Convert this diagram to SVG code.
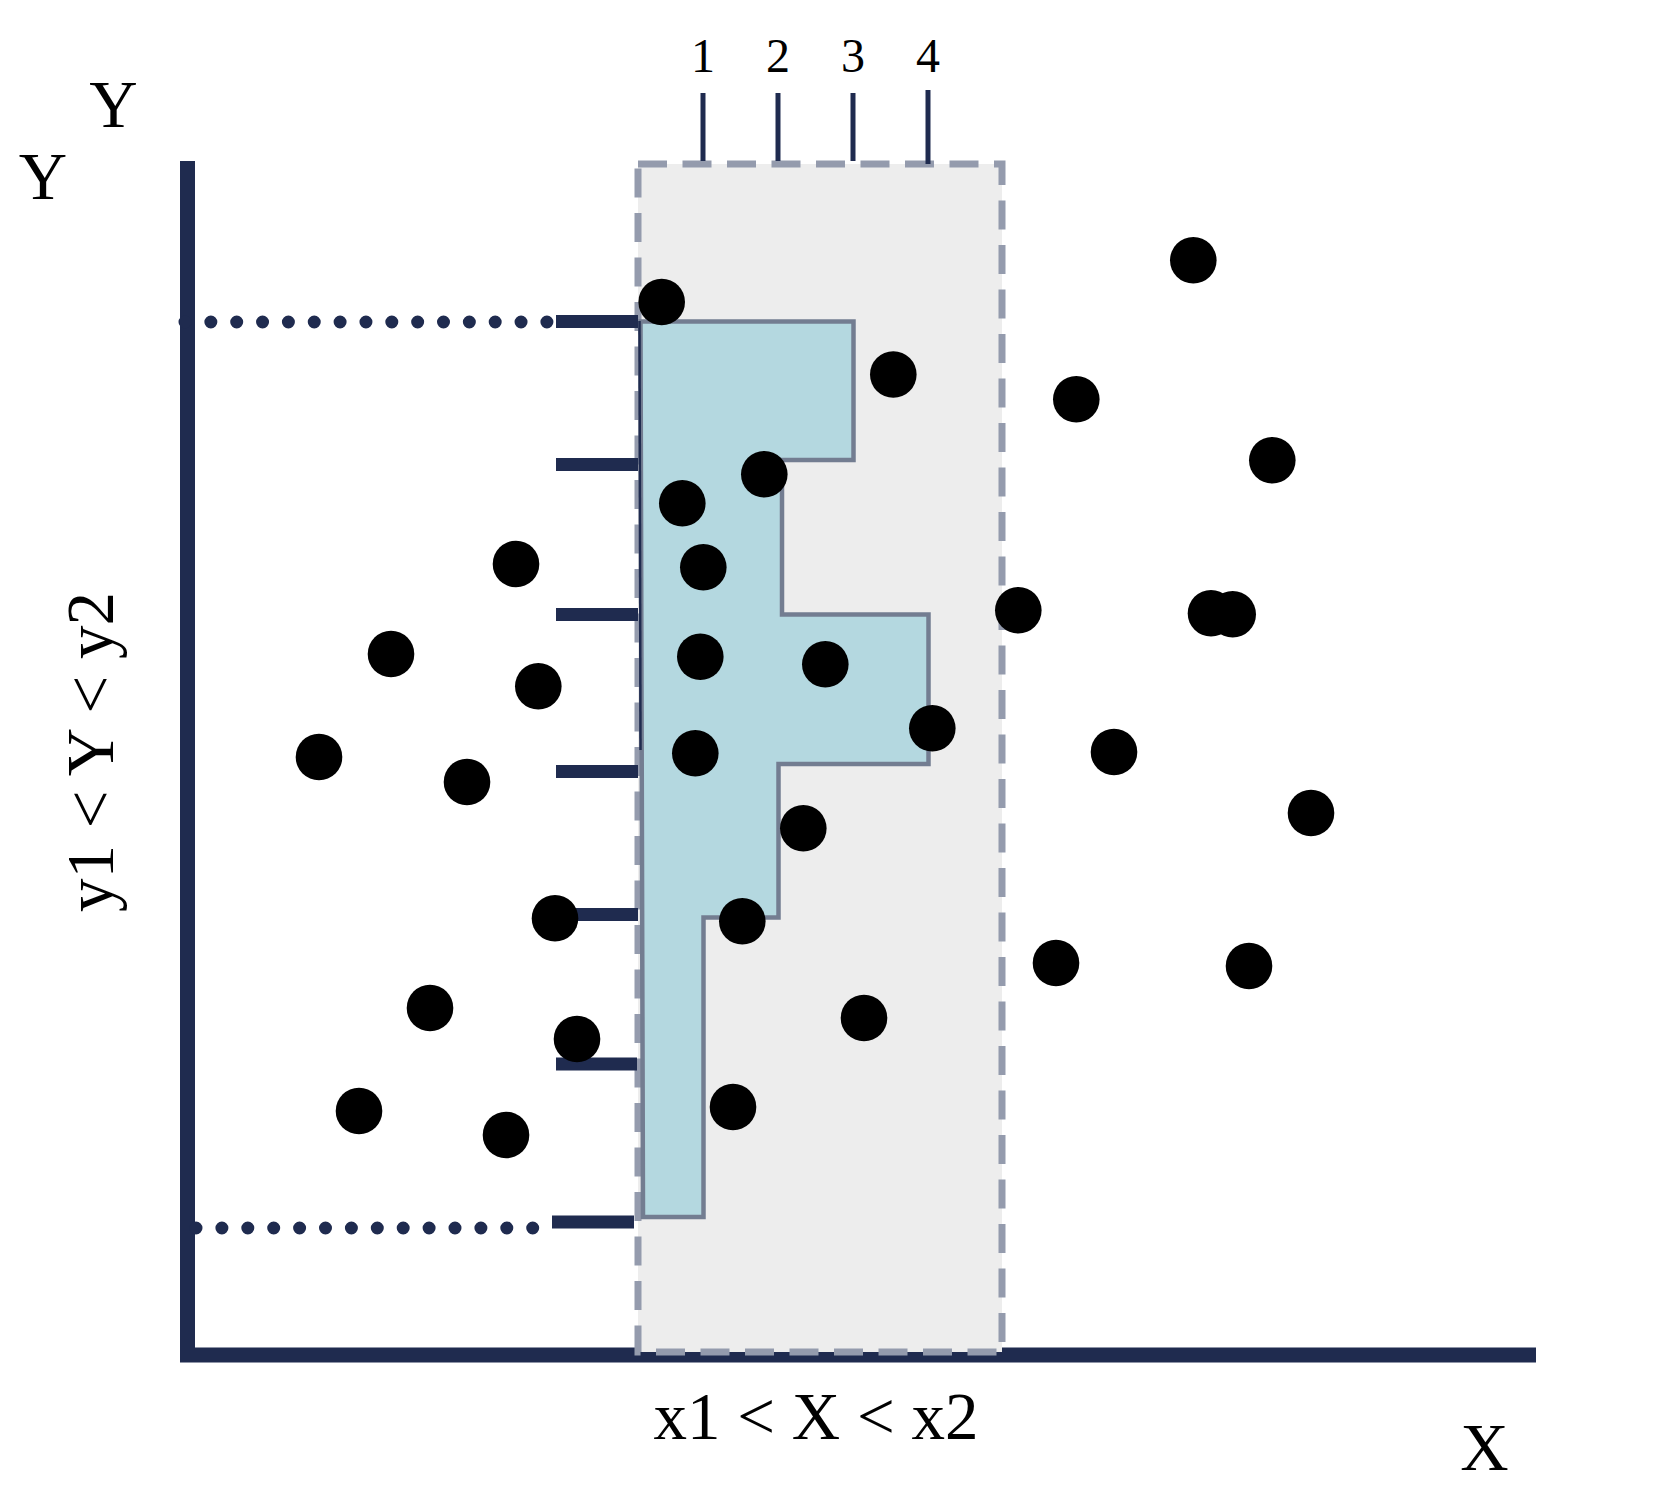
<svg xmlns="http://www.w3.org/2000/svg" width="1678" height="1509" viewBox="0 0 1678 1509">
<style>
.lbl{font-family:"Liberation Serif","Times New Roman",serif;fill:#000;text-anchor:middle}
.big{font-size:67px}
.num{font-size:48px}
.axis{fill:none;stroke:#1f2b4f;stroke-width:15;stroke-linejoin:miter;stroke-linecap:butt}
.tick{stroke:#1f2b4f;stroke-width:13;stroke-linecap:butt}
.ntick{stroke:#1f2b4f;stroke-width:5}
.dots{fill:none;stroke:#1f2b4f;stroke-width:13;stroke-linecap:round}
.pt{fill:#000}
</style>
<rect width="1678" height="1509" fill="#fff"/>
<g id="axes">
<path class="axis" d="M187.5,161 V1355 H1536"/>
</g>
<g id="range-box">
<rect x="638" y="164" width="364" height="1188" fill="#ededed" stroke="#949bad" stroke-width="7" stroke-dasharray="29 15.5"/>
</g>
<g id="histogram">
<polygon points="640.5,321.5 853.5,321.5 853.5,460 782,460 782,614.5 928.5,614.5 928.5,764 778.5,764 778.5,917.5 703.5,917.5 703.5,1217 643,1217" fill="#b4d8e0" stroke="#737d91" stroke-width="4.5"/>
<line x1="639.5" y1="321" x2="640.5" y2="750" stroke="#1f2b4f" stroke-width="2.5"/>
</g>
<g id="connectors">
<path class="dots" d="M185,322 H548" stroke-dasharray="0 25.85"/>
<path class="dots" d="M196,1228 H534" stroke-dasharray="0 25.9"/>
<line class="tick" x1="556" y1="321.5" x2="638" y2="321.5"/>
<line class="tick" x1="556" y1="464.5" x2="638" y2="464.5"/>
<line class="tick" x1="556" y1="614.5" x2="638" y2="614.5"/>
<line class="tick" x1="556" y1="771.5" x2="638" y2="771.5"/>
<line class="tick" x1="556" y1="914.5" x2="638" y2="914.5"/>
<line class="tick" x1="556" y1="1064" x2="637" y2="1064"/>
<line class="tick" x1="552" y1="1222" x2="634" y2="1222"/>
<line class="ntick" x1="703" y1="93" x2="703" y2="161"/>
<line class="ntick" x1="778" y1="93" x2="778" y2="161"/>
<line class="ntick" x1="853" y1="93" x2="853" y2="161"/>
<line class="ntick" x1="928" y1="90" x2="928" y2="164"/>
</g>
<g id="points">
<circle class="pt" cx="661.7" cy="302" r="23.3"/>
<circle class="pt" cx="1193.3" cy="260.3" r="23.3"/>
<circle class="pt" cx="893.3" cy="374.5" r="23.3"/>
<circle class="pt" cx="1076.3" cy="399.3" r="23.3"/>
<circle class="pt" cx="1272.3" cy="460.3" r="23.3"/>
<circle class="pt" cx="764.3" cy="474.3" r="23.3"/>
<circle class="pt" cx="682.3" cy="503.3" r="23.3"/>
<circle class="pt" cx="516" cy="564" r="23.3"/>
<circle class="pt" cx="703.3" cy="567.3" r="23.3"/>
<circle class="pt" cx="1018.3" cy="610.3" r="23.3"/>
<circle class="pt" cx="1211" cy="613.3" r="23.3"/>
<circle class="pt" cx="1232.7" cy="614.3" r="23.3"/>
<circle class="pt" cx="391" cy="654" r="23.3"/>
<circle class="pt" cx="700.3" cy="656.7" r="23.3"/>
<circle class="pt" cx="825.3" cy="664.3" r="23.3"/>
<circle class="pt" cx="538.3" cy="686.3" r="23.3"/>
<circle class="pt" cx="932.3" cy="728.3" r="23.3"/>
<circle class="pt" cx="319" cy="757" r="23.3"/>
<circle class="pt" cx="695.3" cy="753.3" r="23.3"/>
<circle class="pt" cx="467" cy="782" r="23.3"/>
<circle class="pt" cx="1114" cy="752" r="23.3"/>
<circle class="pt" cx="1311" cy="813" r="23.3"/>
<circle class="pt" cx="803.3" cy="828.3" r="23.3"/>
<circle class="pt" cx="555" cy="918.3" r="23.3"/>
<circle class="pt" cx="742.3" cy="921.3" r="23.3"/>
<circle class="pt" cx="1056" cy="963" r="23.3"/>
<circle class="pt" cx="1249" cy="966" r="23.3"/>
<circle class="pt" cx="430" cy="1008" r="23.3"/>
<circle class="pt" cx="864" cy="1018" r="23.3"/>
<circle class="pt" cx="577" cy="1039" r="23.3"/>
<circle class="pt" cx="359" cy="1111" r="23.3"/>
<circle class="pt" cx="733" cy="1107" r="23.3"/>
<circle class="pt" cx="506" cy="1135" r="23.3"/>
</g>
<g id="labels">
<text class="lbl num" x="703" y="72">1</text>
<text class="lbl num" x="778" y="72">2</text>
<text class="lbl num" x="853" y="72">3</text>
<text class="lbl num" x="928" y="72">4</text>
<text class="lbl big" x="113.5" y="127">Y</text>
<text class="lbl big" x="43" y="199">Y</text>
<text class="lbl big" x="1484.5" y="1470">X</text>
<text class="lbl big" x="816" y="1439">x1 &lt; X &lt; x2</text>
<text class="lbl big" x="113" y="752" transform="rotate(-90 113 752)">y1 &lt; Y &lt; y2</text>
</g>
</svg>
